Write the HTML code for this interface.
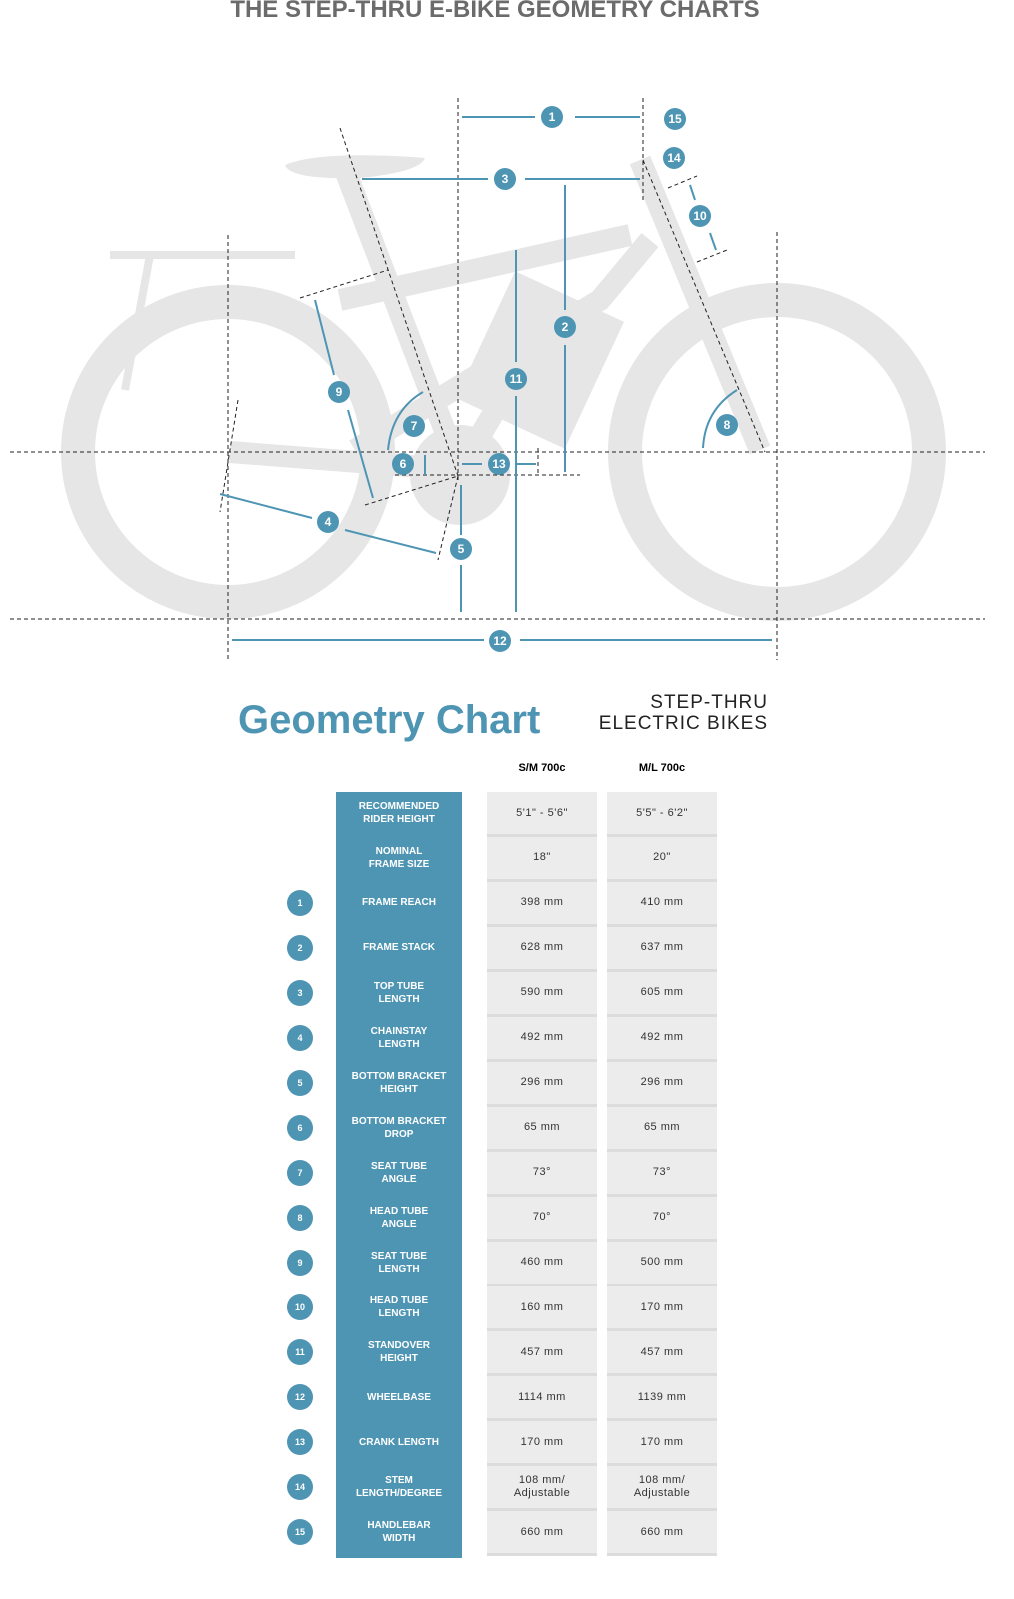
<!DOCTYPE html>
<html><head><meta charset="utf-8"><style>
body{margin:0;width:1014px;height:1599px;background:#fff;font-family:"Liberation Sans",sans-serif;position:relative;overflow:hidden}
.t{position:absolute;left:0;width:990px;text-align:center;top:-4px;font-weight:bold;font-size:24px;color:#6b6b6b;letter-spacing:0px}
.gc{position:absolute;left:238px;top:698px;font-size:40px;font-weight:bold;color:#4e95b4}
.st{position:absolute;left:500px;top:692px;width:268px;text-align:right;font-size:19px;line-height:21px;color:#222;letter-spacing:1px;white-space:nowrap}
.hd{position:absolute;top:762px;font-size:11px;font-weight:bold;width:110px;text-align:center}
.bl{position:absolute;left:336px;top:792px;width:126px;height:766px;background:#4e95b4}
.lab{position:absolute;left:336px;width:126px;text-align:center;color:#fff;font-weight:bold;font-size:10px;line-height:13px}
.c{position:absolute;width:110px;height:42px;background:#ececec;border-bottom:3px solid #dcdcdc;display:flex;align-items:center;justify-content:center;text-align:center;font-size:11px;color:#333;line-height:13px;letter-spacing:.5px}
.n{position:absolute;left:287px;width:26px;height:26px;border-radius:50%;background:#4e95b4;color:#fff;font-size:9px;font-weight:bold;display:flex;align-items:center;justify-content:center}
</style></head><body>
<div class="t">THE STEP-THRU E-BIKE GEOMETRY CHARTS</div>
<svg width="1014" height="680" style="position:absolute;left:0;top:0">
<g fill="none" stroke="#e6e6e6">
<circle cx="228" cy="452" r="150" stroke-width="34"/>
<circle cx="777" cy="452" r="152" stroke-width="34"/>
<path d="M355 450 L600 300 L650 240 M340 300 L630 235 M345 170 L460 470 L560 300 M230 452 L460 470 M640 160 L760 450" stroke-width="22"/>
<path d="M110 255 L295 255 M150 255 L125 390" stroke-width="8"/>
</g>
<path d="M285 165 Q320 150 425 158 Q420 172 360 178 Q290 180 285 165Z" fill="#e6e6e6"/>
<rect x="480" y="290" width="120" height="140" fill="#e6e6e6" transform="rotate(25 540 360)"/>
<circle cx="460" cy="475" r="50" fill="#e6e6e6"/>
<g stroke="#222" stroke-width="1" stroke-dasharray="4,3" fill="none">
<line x1="10" y1="452" x2="985" y2="452"/><line x1="10" y1="619" x2="985" y2="619"/>
<line x1="228" y1="235" x2="228" y2="660"/><line x1="777" y1="232" x2="777" y2="660"/>
<line x1="458" y1="98" x2="458" y2="480"/><line x1="643" y1="98" x2="643" y2="200"/>
<line x1="340" y1="128" x2="458" y2="476"/><line x1="643" y1="160" x2="765" y2="452"/>
<line x1="300" y1="298" x2="388" y2="270"/><line x1="365" y1="505" x2="458" y2="476"/>
<line x1="395" y1="475" x2="580" y2="475"/><line x1="538" y1="448" x2="538" y2="475"/>
<line x1="238" y1="400" x2="220" y2="512"/><line x1="458" y1="476" x2="438" y2="560"/>
<line x1="668" y1="188" x2="697" y2="176"/><line x1="697" y1="262" x2="727" y2="250"/>
</g>
<g stroke="#4e95b4" stroke-width="2" fill="none">
<line x1="462" y1="117" x2="535" y2="117"/><line x1="575" y1="117" x2="640" y2="117"/>
<line x1="362" y1="179" x2="488" y2="179"/><line x1="525" y1="179" x2="640" y2="179"/>
<line x1="565" y1="185" x2="565" y2="310"/><line x1="565" y1="345" x2="565" y2="472"/>
<line x1="516" y1="250" x2="516" y2="362"/><line x1="516" y1="396" x2="516" y2="612"/>
<line x1="461" y1="485" x2="461" y2="535"/><line x1="461" y1="565" x2="461" y2="612"/>
<line x1="232" y1="640" x2="484" y2="640"/><line x1="520" y1="640" x2="772" y2="640"/>
<line x1="220" y1="494" x2="312" y2="518"/><line x1="345" y1="530" x2="436" y2="553"/>
<line x1="315" y1="300" x2="334" y2="375"/><line x1="348" y1="410" x2="373" y2="498"/>
<line x1="425" y1="455" x2="425" y2="475"/><line x1="462" y1="464" x2="482" y2="464"/><line x1="515" y1="464" x2="536" y2="464"/>
<line x1="690" y1="185" x2="695" y2="200"/><line x1="710" y1="233" x2="716" y2="250"/>
<path d="M388 450 Q392 410 423 392"/><path d="M703 448 Q705 410 737 390"/>
</g>
<g fill="#4e95b4" font-family="Liberation Sans" font-size="12" font-weight="bold" text-anchor="middle">
<circle cx="552" cy="117" r="11"/><circle cx="675" cy="119" r="11"/><circle cx="674" cy="158" r="11"/><circle cx="505" cy="179" r="11"/>
<circle cx="700" cy="216" r="11"/><circle cx="565" cy="327" r="11"/><circle cx="516" cy="379" r="11"/><circle cx="339" cy="392" r="11"/>
<circle cx="414" cy="426" r="11"/><circle cx="727" cy="425" r="11"/><circle cx="403" cy="464" r="11"/><circle cx="499" cy="464" r="11"/>
<circle cx="328" cy="522" r="11"/><circle cx="461" cy="549" r="11"/><circle cx="500" cy="641" r="11"/>
<g fill="#fff"><text x="552" y="121">1</text><text x="675" y="123">15</text><text x="674" y="162">14</text><text x="505" y="183">3</text><text x="700" y="220">10</text><text x="565" y="331">2</text><text x="516" y="383">11</text><text x="339" y="396">9</text><text x="414" y="430">7</text><text x="727" y="429">8</text><text x="403" y="468">6</text><text x="499" y="468">13</text><text x="328" y="526">4</text><text x="461" y="553">5</text><text x="500" y="645">12</text></g>
</g>
</svg>
<div class="gc">Geometry Chart</div>
<div class="st">STEP-THRU<br>ELECTRIC BIKES</div>
<div class="hd" style="left:487px">S/M 700c</div><div class="hd" style="left:607px">M/L 700c</div>
<div class="bl"></div>
<div id="rows"></div>
<script>
var d=[["RECOMMENDED<br>RIDER HEIGHT","5'1\" - 5'6\"","5'5\" - 6'2\""],["NOMINAL<br>FRAME SIZE","18\"","20\""],["FRAME REACH","398 mm","410 mm"],["FRAME STACK","628 mm","637 mm"],["TOP TUBE<br>LENGTH","590 mm","605 mm"],["CHAINSTAY<br>LENGTH","492 mm","492 mm"],["BOTTOM BRACKET<br>HEIGHT","296 mm","296 mm"],["BOTTOM BRACKET<br>DROP","65 mm","65 mm"],["SEAT TUBE<br>ANGLE","73°","73°"],["HEAD TUBE<br>ANGLE","70°","70°"],["SEAT TUBE<br>LENGTH","460 mm","500 mm"],["HEAD TUBE<br>LENGTH","160 mm","170 mm"],["STANDOVER<br>HEIGHT","457 mm","457 mm"],["WHEELBASE","1114 mm","1139 mm"],["CRANK LENGTH","170 mm","170 mm"],["STEM<br>LENGTH/DEGREE","108 mm/<br>Adjustable","108 mm/<br>Adjustable"],["HANDLEBAR<br>WIDTH","660 mm","660 mm"]];
var h="";d.forEach(function(r,i){var y=792+i*44.95,c=y+21;
h+='<div class="lab" style="top:'+(c-(r[0].indexOf("<br>")>0?13:6.5))+'px">'+r[0]+'</div>';
h+='<div class="c" style="left:487px;top:'+y+'px">'+r[1]+'</div><div class="c" style="left:607px;top:'+y+'px">'+r[2]+'</div>';
if(i>=2)h+='<div class="n" style="top:'+(c-13)+'px">'+(i-1)+'</div>';});
document.getElementById("rows").innerHTML=h;
</script>
</body></html>
